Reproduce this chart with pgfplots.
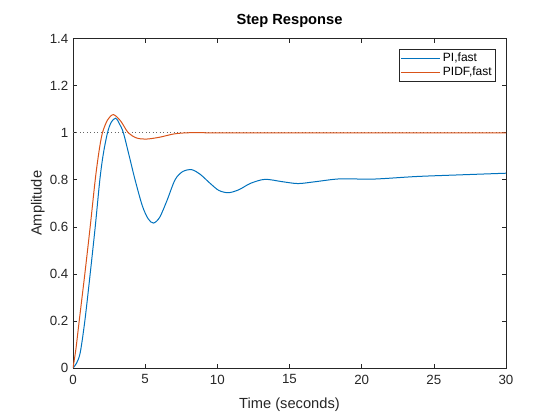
\documentclass[border=0pt]{standalone}
\usepackage{fontspec}
\setmainfont{Liberation Sans}
\usepackage{pgfplots}
\pgfplotsset{compat=1.18}
\definecolor{mblue}{rgb}{0,0.447,0.741}
\definecolor{morange}{rgb}{0.851,0.325,0.098}
\definecolor{axgray}{rgb}{0.15,0.15,0.15}
\begin{document}
\begin{tikzpicture}
\path[use as bounding box] (0,0) rectangle (420pt,315pt);
\begin{axis}[
  at={(54.75pt,39pt)}, anchor=south west,
  scale only axis, width=324.75pt, height=247pt,
  xmin=0, xmax=30, ymin=0, ymax=1.4,
  xtick={0,5,...,30}, ytick={0,0.2,...,1.4},
  yticklabels={0,0.2,0.4,0.6,0.8,1,1.2,1.4},
  tick align=inside, xtick pos=both, ytick pos=both,
  major tick length=3.3pt,
  axis line style={axgray, line width=0.5pt},
  tick style={axgray, line width=0.5pt},
  every tick label/.append style={font=\fontsize{10pt}{12pt}\selectfont, text=axgray},
  xticklabel style={yshift=-1.5pt},
  /pgf/number format/assume math mode=true,
  title={\textbf{Step Response}},
  title style={font=\fontsize{11pt}{13pt}\selectfont, text=black, yshift=-1.5pt},
  xlabel={Time (seconds)}, ylabel={Amplitude},
  label style={font=\fontsize{11pt}{13pt}\selectfont, text=axgray},
  xlabel style={yshift=-3.5pt},
  ylabel style={yshift=-3pt},
  legend style={at={(1,1)}, anchor=north east, xshift=-7.5pt, yshift=-7.5pt,
    font=\fontsize{9pt}{10pt}\selectfont, draw=axgray, line width=0.5pt,
    inner sep=1pt, row sep=-1.5pt},
  legend cell align=left,
  legend image code/.code={\draw[#1] (0pt,0pt) -- (29pt,0pt);},
]
\addplot[black!60, dotted, line width=0.6pt, forget plot] coordinates {(0,1) (30,1)};
\addplot[mblue, line width=0.75pt, smooth, tension=0.5] coordinates {
(0,0) (0.24,0.02) (0.5,0.065) (0.82,0.2) (1.19,0.4) (1.54,0.6) (1.86,0.8) (2.1,0.91)
(2.39,1.0) (2.65,1.045) (2.96,1.062) (3.2,1.04) (3.49,1.0) (3.9,0.9) (4.3,0.8) (4.8,0.69)
(5.2,0.635) (5.57,0.616) (6.0,0.64) (6.5,0.71) (7.07,0.8) (7.6,0.835) (8.22,0.843)
(8.8,0.824) (9.5,0.785) (10.1,0.755) (10.77,0.745) (11.5,0.758) (12.3,0.785)
(13.3,0.802) (14.5,0.792) (15.6,0.784) (16.8,0.792) (18.5,0.804) (20.8,0.803)
(23.8,0.814) (26.8,0.821) (30,0.828)};
\addlegendentry{PI,fast}
\addplot[morange, line width=0.75pt, smooth, tension=0.5] coordinates {
(0,0) (0.2,0.08) (0.43,0.2) (0.82,0.4) (1.19,0.6) (1.54,0.8) (1.8,0.92) (2.04,1.0)
(2.4,1.055) (2.8,1.077) (3.3,1.05) (3.83,1.0) (4.4,0.978) (5.06,0.973) (6.0,0.981)
(7.0,0.995) (8.0,1.0) (10,1.0) (30,1.0)};
\addlegendentry{PIDF,fast}
\end{axis}
\end{tikzpicture}
\end{document}
